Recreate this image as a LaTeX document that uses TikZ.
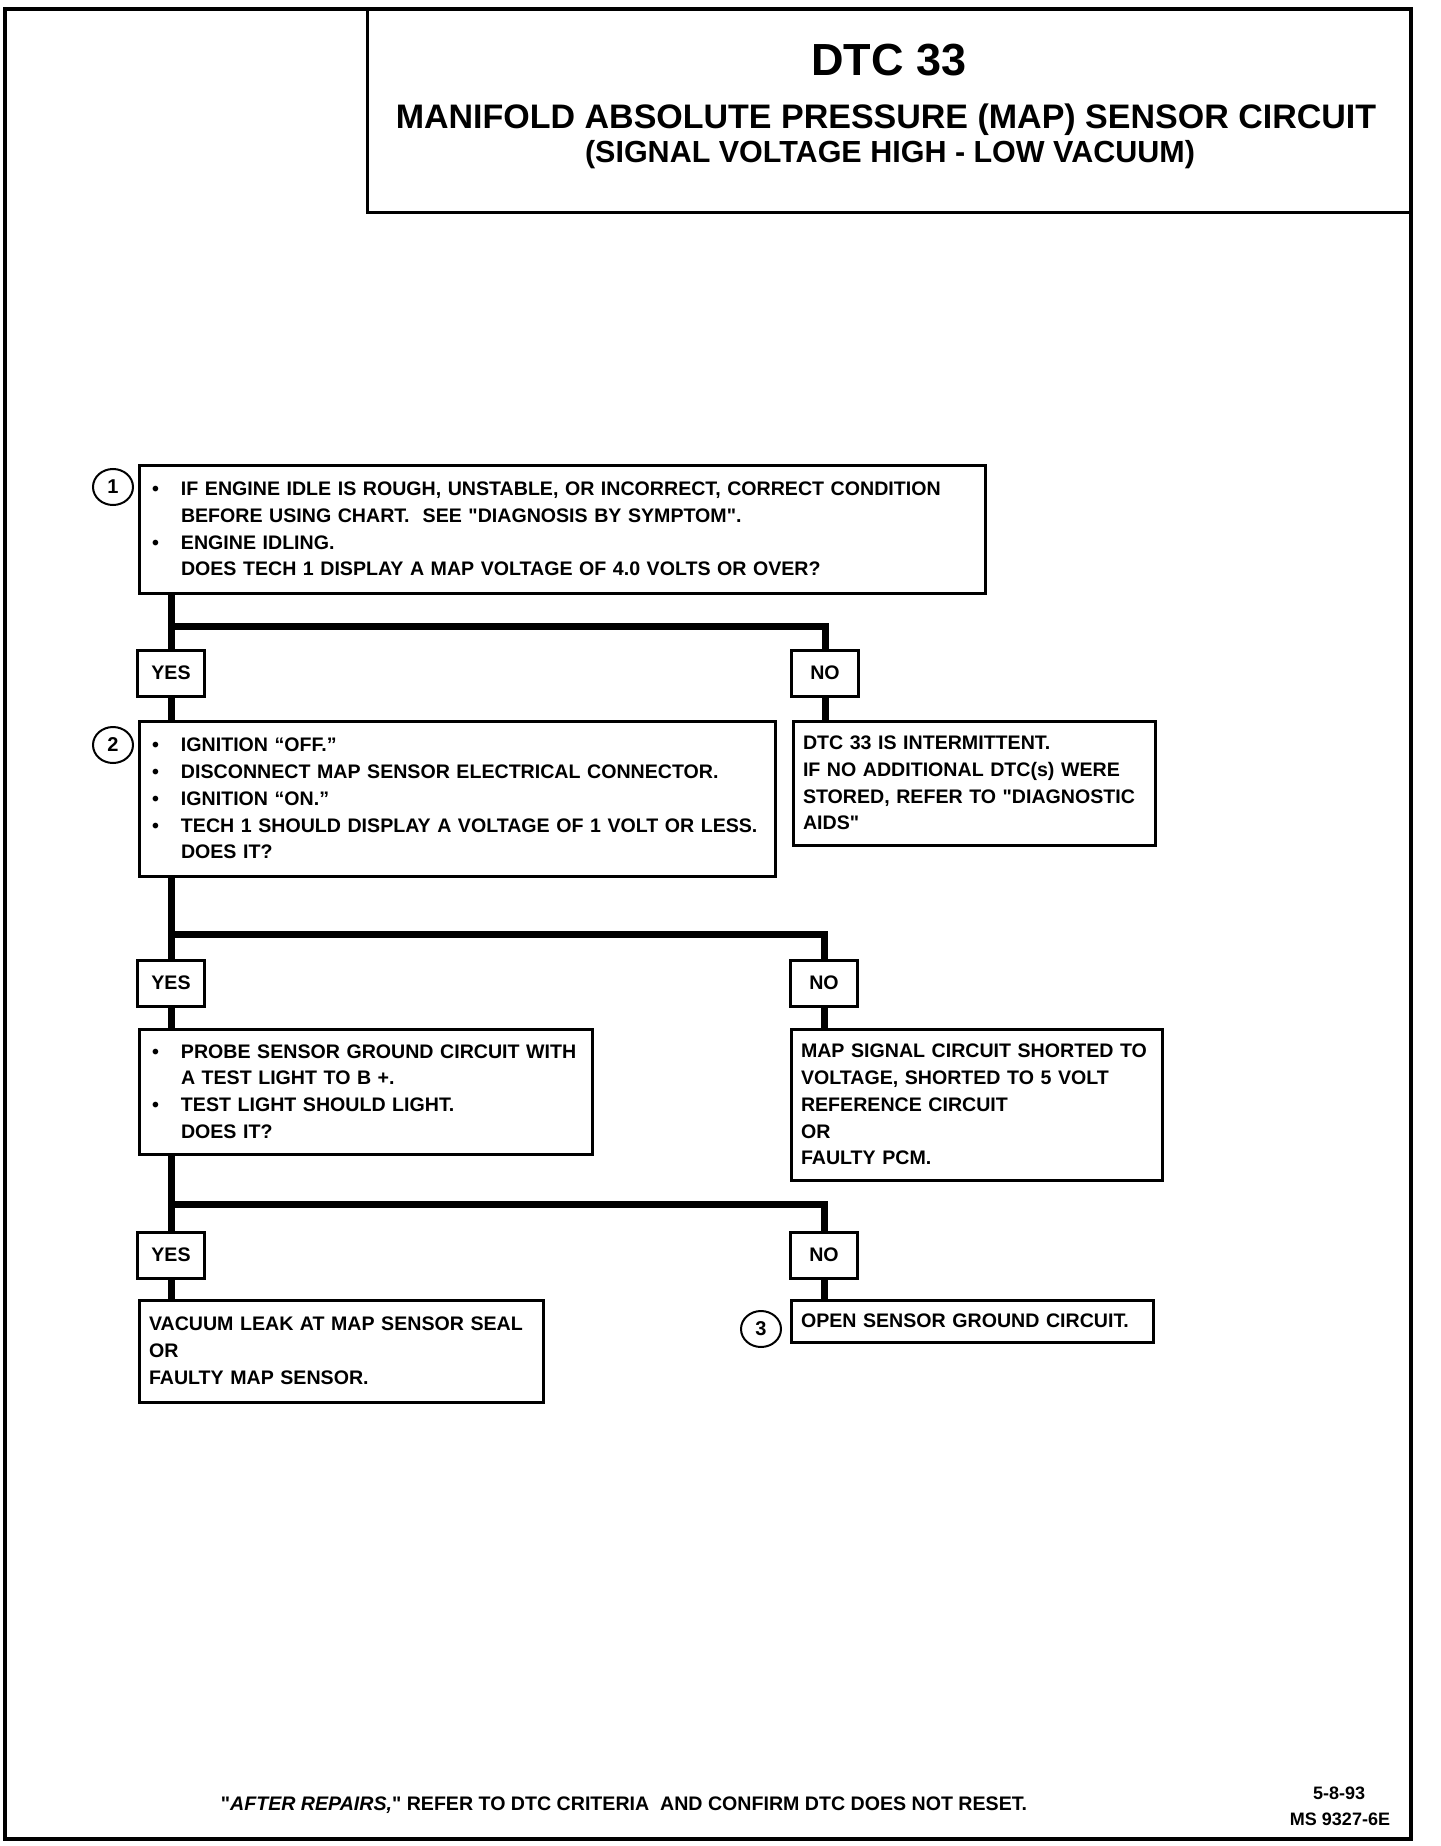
\documentclass[tikz,border=0pt]{standalone}
\usepackage{fontspec}
\setmainfont{Liberation Sans}
\usetikzlibrary{positioning,shapes.geometric}
\newcommand{\bul}{\makebox[29pt][l]{\textbullet}}
\newcommand{\ind}{\hspace*{29pt}}
\newcommand{\qq}{\textquotedbl}

\begin{document}
\begin{tikzpicture}[
  x=1pt, y=-1pt, line join=miter,
  font=\bfseries\fontsize{19.6}{26.8}\selectfont,
  chartbox/.style={draw, line width=3pt, outer sep=0pt, anchor=north west,
    align=left, inner xsep=10pt, inner ysep=0pt},
  bulletbox/.style={chartbox, inner xsep=13pt},
  answer/.style={draw, line width=3pt, outer sep=0pt, minimum width=67pt,
    minimum height=46pt, inner sep=0pt},
  stepnum/.style={draw, ellipse, line width=2pt, minimum width=40pt,
    minimum height=36pt, inner sep=0pt, font=\bfseries\fontsize{20}{20}\selectfont},
  flow/.style={line width=7pt}
]
\useasboundingbox (0,0) rectangle (1440,1846);
\draw[line width=4pt] (5,9) rectangle (1411,1839);

% title block
\draw[line width=3pt] (367,9) rectangle (1411,212);
\node[font=\bfseries\fontsize{45}{45}\selectfont] (dtc) at (889,60) {DTC 33};
\node[font=\bfseries\fontsize{34}{34}\selectfont] (circuit) at (886,120) {MANIFOLD ABSOLUTE PRESSURE (MAP) SENSOR CIRCUIT};
\node[font=\bfseries\fontsize{30.5}{30.5}\selectfont] (signal) at (890,155) {(SIGNAL VOLTAGE HIGH - LOW VACUUM)};

% step 1
\node[bulletbox, text width=820pt, minimum height=128pt] (q1) at (139,465)
  {\bul IF ENGINE IDLE IS ROUGH, UNSTABLE, OR INCORRECT, CORRECT CONDITION\\
   \ind BEFORE USING CHART.\ \ SEE \qq DIAGNOSIS BY SYMPTOM\qq.\\
   \bul ENGINE IDLING.\\
   \ind DOES TECH 1 DISPLAY A MAP VOLTAGE OF 4.0 VOLTS OR OVER?};
\node[stepnum] (n1) at (113,487) {1};

\node[answer] (yes1) at (171,673) {YES};
\node[answer] (no1) at (825,673) {NO};
\coordinate (j1) at (171,626);

% step 2
\node[bulletbox, text width=610pt, minimum height=155pt] (q2) at (139,721)
  {\bul IGNITION “OFF.”\\
   \bul DISCONNECT MAP SENSOR ELECTRICAL CONNECTOR.\\
   \bul IGNITION “ON.”\\
   \mbox{\bul TECH 1 SHOULD DISPLAY A VOLTAGE OF 1 VOLT OR LESS.}\\
   \ind DOES IT?};
\node[stepnum] (n2) at (113,745) {2};

\node[chartbox, text width=342pt, minimum height=124pt] (r1) at (793,721)
  {DTC 33 IS INTERMITTENT.\\
   IF NO ADDITIONAL DTC(s) WERE\\
   STORED, REFER TO \qq DIAGNOSTIC\\
   AIDS\qq};

\node[answer] (yes2) at (171,983) {YES};
\node[answer] (no2) at (824,983) {NO};
\coordinate (j2) at (171,934);

% step 3
\node[bulletbox, text width=427pt, minimum height=125pt] (q3) at (139,1029)
  {\bul PROBE SENSOR GROUND CIRCUIT WITH\\
   \ind A TEST LIGHT TO B +.\\
   \bul TEST LIGHT SHOULD LIGHT.\\
   \ind DOES IT?};

\node[chartbox, text width=351pt, minimum height=151pt] (r2) at (791,1029)
  {MAP SIGNAL CIRCUIT SHORTED TO\\
   VOLTAGE, SHORTED TO 5 VOLT\\
   REFERENCE CIRCUIT\\
   OR\\
   FAULTY PCM.};

\node[answer] (yes3) at (171,1255) {YES};
\node[answer] (no3) at (824,1255) {NO};
\coordinate (j3) at (171,1204);

\node[chartbox, text width=384pt, minimum height=102pt] (r3) at (139,1300)
  {VACUUM LEAK AT MAP SENSOR SEAL\\
   OR\\
   FAULTY MAP SENSOR.};
\node[chartbox, text width=342pt, minimum height=42pt] (r4) at (791,1300)
  {OPEN SENSOR GROUND CIRCUIT.};
\node[stepnum] (n3) at (761,1329) {3};

% connectors
\draw[flow] (q1.south -| yes1.north) -- (yes1.north);
\draw[flow] (j1) -| (no1.north);
\draw[flow] (yes1.south) -- (yes1.south |- q2.north);
\draw[flow] (no1.south) -- (no1.south |- r1.north);

\draw[flow] (q2.south -| yes2.north) -- (yes2.north);
\draw[flow] (j2) -| (no2.north);
\draw[flow] (yes2.south) -- (yes2.south |- q3.north);
\draw[flow] (no2.south) -- (no2.south |- r2.north);

\draw[flow] (q3.south -| yes3.north) -- (yes3.north);
\draw[flow] (j3) -| (no3.north);
\draw[flow] (yes3.south) -- (yes3.south |- r3.north);
\draw[flow] (no3.south) -- (no3.south |- r4.north);

% footer
\node (footer) at (624,1805) {\qq\textit{AFTER REPAIRS,}\qq\ REFER TO DTC CRITERIA\ \ AND CONFIRM DTC DOES NOT RESET.};
\node[font=\bfseries\fontsize{18}{18}\selectfont] (date) at (1339,1793) {5-8-93};
\node[font=\bfseries\fontsize{18}{18}\selectfont] (msnum) at (1340,1819) {MS 9327-6E};
\end{tikzpicture}
\end{document}
